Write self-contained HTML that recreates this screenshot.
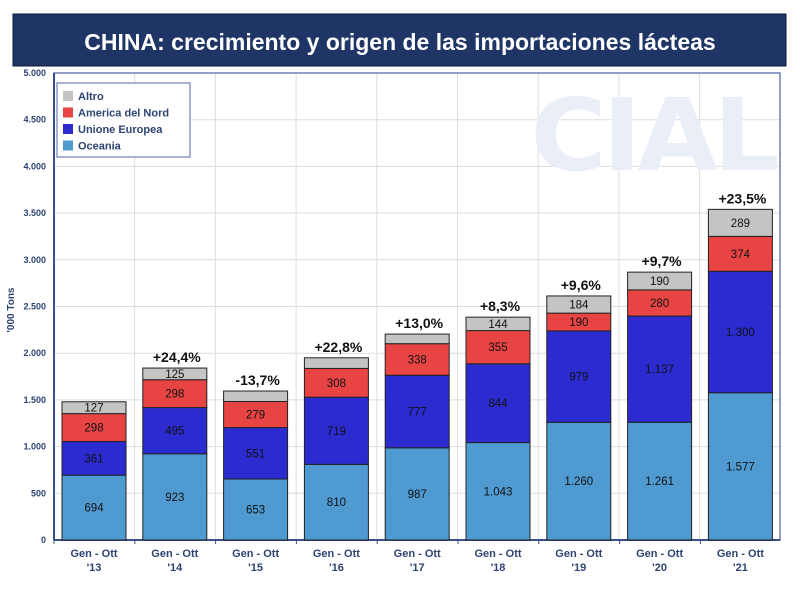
<!DOCTYPE html>
<html><head><meta charset="utf-8"><style>
body{margin:0;background:#fff;width:800px;height:593px;overflow:hidden;font-family:"Liberation Sans","DejaVu Sans",sans-serif}
</style></head><body>
<svg id="c" width="800" height="593" xmlns="http://www.w3.org/2000/svg">
<rect x="13" y="14" width="773" height="52" fill="#1f3566"/>
<rect x="13" y="14" width="773" height="52" fill="none" stroke="#0c1a3a" stroke-width="1"/>
<text x="400" y="50" fill="#fff" font-size="23" font-weight="bold" text-anchor="middle" font-family="Liberation Sans, sans-serif">CHINA: crecimiento y origen de las importaciones lácteas</text>
</svg>
<script>
const s=document.getElementById('c');let h='';
const L=54,R=780,B=540,T=73,k=(B-T)/5000;
const y=v=>B-v*k;
for(let v=500;v<=5000;v+=500){h+=`<line x1="${L}" x2="${R}" y1="${y(v)}" y2="${y(v)}" stroke="#ddd" stroke-width="1"/>`;}
for(let i=1;i<9;i++){const x=L+i*80.7;h+=`<line x1="${x}" x2="${x}" y1="${T}" y2="${B}" stroke="#ddd"/>`;}
h+=`<text x="653" y="170" font-size="100" font-weight="bold" fill="#eaeef7" text-anchor="middle" font-family="DejaVu Sans, sans-serif" letter-spacing="-4" textLength="245" lengthAdjust="spacingAndGlyphs">CIAL</text>`;
h+=`<rect x="${L}" y="${T}" width="${R-L}" height="${B-T}" fill="none" stroke="#6d80b8" stroke-width="1.5"/>`;
h+=`<line x1="${L}" x2="${R}" y1="${B}" y2="${B}" stroke="#3a4f8a" stroke-width="2"/><line x1="${L}" x2="${L}" y1="${T}" y2="${B}" stroke="#3a4f8a" stroke-width="2"/>`;
const fmt=v=>v>=1000?Math.floor(v/1000)+'.'+String(v%1000).padStart(3,'0'):''+v;
for(let v=0;v<=5000;v+=500){h+=`<text x="46" y="${y(v)+3}" font-size="9" font-weight="bold" fill="#2d4372" text-anchor="end">${fmt(v)}</text>`;}
h+=`<text transform="translate(14,310) rotate(-90)" font-size="10" font-weight="bold" fill="#2d4372" text-anchor="middle">'000 Tons</text>`;
const D=[[694,361,298,127,'',1],[923,495,298,125,'+24,4%',1],[653,551,279,112,'-13,7%',0],[810,719,308,114,'+22,8%',0],[987,777,338,103,'+13,0%',0],[1043,844,355,144,'+8,3%',1],[1260,979,190,184,'+9,6%',1],[1261,1137,280,190,'+9,7%',1],[1577,1300,374,289,'+23,5%',1]];
const C=['#4f9bd1','#2b2bd0','#e84444','#c4c4c4'];
const yrs=['13','14','15','16','17','18','19','20','21'];
D.forEach((d,i)=>{const cx=94+i*80.8,x=cx-32;let acc=0;
for(let j=0;j<4;j++){const y0=y(acc),y1=y(acc+d[j]);h+=`<rect x="${x}" y="${y1}" width="64" height="${y0-y1}" fill="${C[j]}" stroke="#222" stroke-width="1"/>`;
if(j<3||d[5])h+=`<text x="${cx}" y="${(y0+y1)/2+4}" font-size="11.5" fill="#111" text-anchor="middle">${fmt(d[j])}</text>`;acc+=d[j];}
if(d[4])h+=`<text x="${cx+2}" y="${y(acc)-6}" font-size="14" font-weight="bold" fill="#111" text-anchor="middle">${d[4]}</text>`;
h+=`<line x1="${x-8}" x2="${x-8}" y1="${B}" y2="${B+4}" stroke="#3a4f8a"/>`;
h+=`<text x="${cx}" y="557" font-size="11" font-weight="bold" fill="#2d4372" text-anchor="middle">Gen - Ott</text><text x="${cx}" y="571" font-size="11" font-weight="bold" fill="#2d4372" text-anchor="middle">'${yrs[i]}</text>`;});
h+=`<rect x="57" y="83" width="133" height="74" fill="#fff" stroke="#6d80b8" stroke-width="1.2"/>`;
['Altro','America del Nord','Unione Europea','Oceania'].forEach((t,i)=>{const yy=91+i*16.5;h+=`<rect x="63" y="${yy}" width="10" height="10" fill="${C[3-i]}"/><text x="78" y="${yy+9}" font-size="11" font-weight="bold" fill="#2d4372">${t}</text>`;});
s.insertAdjacentHTML('beforeend',h);
</script>
</body></html>
